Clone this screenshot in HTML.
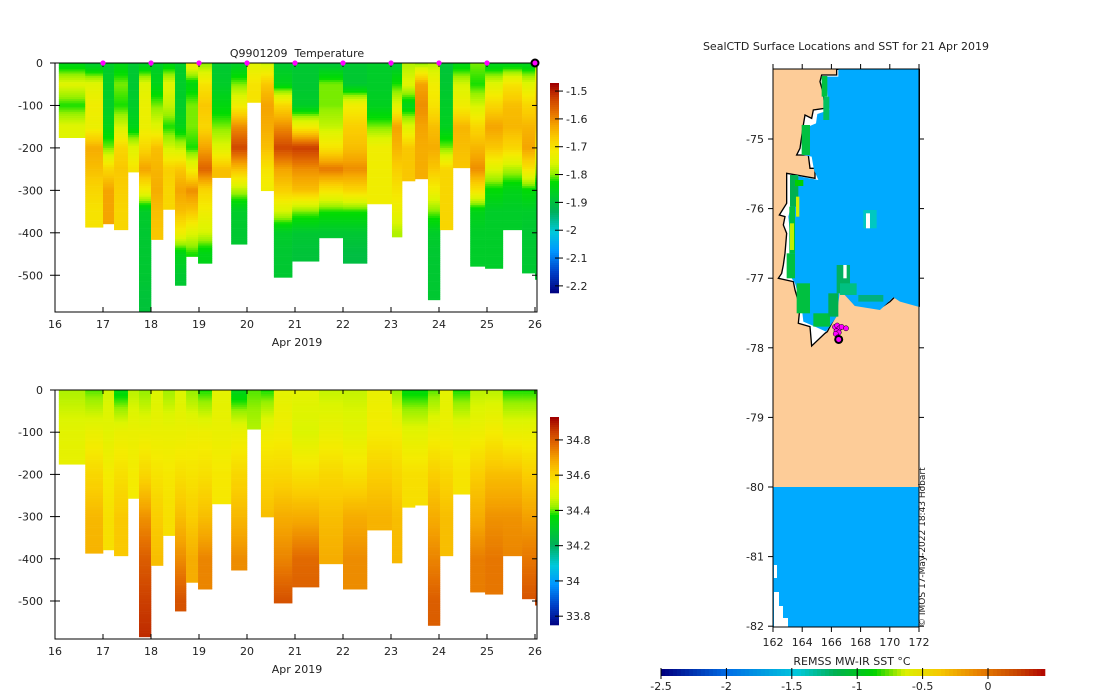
<!DOCTYPE html>
<html><head><meta charset="utf-8">
<style>
html,body{margin:0;padding:0;background:#fff;}
svg{display:block;font-family:"DejaVu Sans","Liberation Sans",sans-serif;}
text{fill:#222;white-space:pre;}
</style></head>
<body>
<svg id="s" width="1100" height="696" viewBox="0 0 1100 696">
<g id="topPanel"></g>
<g id="botPanel"></g>
<g id="mapPanel"></g>
<g id="sstbar"></g>
</svg>
<script>
const colStart=[16.08,16.63,17.0,17.23,17.52,17.75,18.0,18.25,18.5,18.73,18.98,19.27,19.67,20.0,20.29,20.56,20.94,21.5,22.0,22.5,23.02,23.23,23.5,23.77,24.02,24.29,24.65,24.96,25.33,25.73,26.0];
const colEndDay=26.04;
const colDepth=[176,387,379,393,257,585,416,345,524,456,472,270,427,93,301,505,467,412,472,332,410,278,273,558,393,247,479,484,393,495,510];
const tempProfiles=[
[-1.85,-1.75,-1.82,-1.75,-1.75],
[-1.88,-1.75,-1.72,-1.73,-1.63,-1.65,-1.68,-1.70,-1.70],
[-1.87,-1.87,-1.87,-1.85,-1.80,-1.68,-1.62,-1.62,-1.62],
[-1.85,-1.80,-1.82,-1.76,-1.68,-1.66,-1.67,-1.68,-1.68],
[-1.88,-1.88,-1.87,-1.85,-1.75,-1.70,-1.70],
[-1.87,-1.75,-1.73,-1.73,-1.68,-1.62,-1.72,-1.87,-1.88,-1.88,-1.88,-1.89,-1.89],
[-1.87,-1.85,-1.80,-1.75,-1.65,-1.64,-1.63,-1.65,-1.66,-1.66],
[-1.85,-1.75,-1.77,-1.82,-1.76,-1.67,-1.68,-1.68,-1.68],
[-1.87,-1.87,-1.87,-1.85,-1.77,-1.66,-1.62,-1.65,-1.72,-1.85,-1.88,-1.88],
[-1.72,-1.84,-1.80,-1.80,-1.82,-1.72,-1.60,-1.66,-1.75,-1.82,-1.82],
[-1.80,-1.70,-1.66,-1.68,-1.62,-1.56,-1.68,-1.72,-1.76,-1.85,-1.85],
[-1.88,-1.87,-1.84,-1.80,-1.75,-1.65,-1.65],
[-1.87,-1.80,-1.72,-1.60,-1.53,-1.65,-1.78,-1.87,-1.88,-1.88],
[-1.75,-1.70,-1.70],
[-1.77,-1.66,-1.62,-1.63,-1.65,-1.70,-1.72,-1.72],
[-1.88,-1.85,-1.68,-1.60,-1.53,-1.62,-1.67,-1.76,-1.87,-1.88,-1.88,-1.88],
[-1.88,-1.88,-1.87,-1.72,-1.52,-1.60,-1.65,-1.80,-1.88,-1.89,-1.89],
[-1.89,-1.80,-1.80,-1.77,-1.70,-1.58,-1.70,-1.82,-1.88,-1.88],
[-1.88,-1.88,-1.72,-1.67,-1.65,-1.60,-1.68,-1.82,-1.88,-1.90,-1.90],
[-1.87,-1.87,-1.86,-1.80,-1.72,-1.72,-1.72,-1.72],
[-1.88,-1.82,-1.75,-1.62,-1.64,-1.67,-1.70,-1.73,-1.78,-1.78],
[-1.78,-1.75,-1.85,-1.75,-1.66,-1.66,-1.66],
[-1.80,-1.62,-1.60,-1.62,-1.63,-1.63,-1.63],
[-1.78,-1.72,-1.70,-1.65,-1.63,-1.66,-1.72,-1.80,-1.87,-1.88,-1.88,-1.88,-1.88],
[-1.89,-1.88,-1.87,-1.86,-1.80,-1.68,-1.68,-1.68,-1.68],
[-1.85,-1.76,-1.72,-1.64,-1.65,-1.66,-1.66],
[-1.80,-1.82,-1.76,-1.68,-1.64,-1.60,-1.70,-1.85,-1.87,-1.87,-1.87],
[-1.86,-1.75,-1.68,-1.62,-1.66,-1.75,-1.83,-1.87,-1.87,-1.87,-1.87],
[-1.86,-1.70,-1.65,-1.64,-1.68,-1.78,-1.85,-1.87,-1.87],
[-1.86,-1.75,-1.68,-1.64,-1.62,-1.70,-1.83,-1.87,-1.88,-1.88,-1.88],
[-1.82,-1.70,-1.65,-1.65,-1.70,-1.78,-1.85,-1.88,-1.88,-1.88,-1.88,-1.88]
];
const salProfiles=[
[34.44,34.50,34.52],
[34.40,34.52,34.60,34.66,34.67],
[34.47,34.50,34.55,34.58,34.58],
[34.35,34.52,34.58,34.63,34.63],
[34.45,34.52,34.55,34.55],
[34.42,34.52,34.60,34.72,34.80,34.85,34.88],
[34.48,34.52,34.57,34.62,34.65,34.65],
[34.43,34.52,34.56,34.58,34.58],
[34.48,34.52,34.58,34.65,34.73,34.82,34.82],
[34.42,34.53,34.57,34.62,34.68,34.68],
[34.38,34.53,34.58,34.65,34.74,34.74],
[34.50,34.52,34.56,34.56],
[34.33,34.52,34.60,34.66,34.73,34.73],
[34.40,34.45],
[34.38,34.53,34.60,34.65,34.65],
[34.50,34.54,34.60,34.68,34.74,34.82,34.82],
[34.50,34.48,34.58,34.68,34.78,34.80],
[34.46,34.52,34.60,34.65,34.68,34.68],
[34.46,34.50,34.58,34.68,34.73,34.73],
[34.52,34.55,34.62,34.67,34.67],
[34.42,34.55,34.60,34.65,34.66,34.66],
[34.36,34.50,34.58,34.58],
[34.36,34.50,34.58,34.58],
[34.40,34.53,34.62,34.68,34.74,34.80,34.80],
[34.50,34.53,34.60,34.65,34.65],
[34.38,34.52,34.57,34.57],
[34.45,34.53,34.62,34.68,34.75,34.75],
[34.45,34.55,34.65,34.72,34.76,34.76],
[34.38,34.52,34.65,34.72,34.74],
[34.38,34.52,34.62,34.70,34.76,34.82],
[34.38,34.52,34.62,34.70,34.76,34.84,34.84]
];
const dayTicks=[16,17,18,19,20,21,22,23,24,25,26];
const depthTicks=[0,-100,-200,-300,-400,-500];
const markerDays=[17,18,19,20,21,22,23,24,25];
const lastProfileDay=26;
const tempTicks=[-1.5,-1.6,-1.7,-1.8,-1.9,-2,-2.1,-2.2];
const salTicks=[34.8,34.6,34.4,34.2,34,33.8];
const sstTicks=[-2.5,-2,-1.5,-1,-0.5,0];
const lonTicks=[162,164,166,168,170,172];
const latTicks=[-75,-76,-77,-78,-79,-80,-81,-82];
const stationLon=[166.25,166.4,166.55,166.35,166.7,166.5,166.3,167.0,166.45];
const stationLat=[-77.7,-77.68,-77.72,-77.76,-77.7,-77.78,-77.8,-77.72,-77.85];

const NS='http://www.w3.org/2000/svg';
function el(p,t,a){const e=document.createElementNS(NS,t);for(const k in a)e.setAttribute(k,a[k]);p.appendChild(e);return e;}
function txt(p,x,y,s,anchor,size){const t=el(p,'text',{x:x,y:y,'text-anchor':anchor||'middle','font-size':size||11});t.textContent=s;return t;}

const cmap=[[0,[0,0,128]],[0.1,[0,64,200]],[0.2,[0,150,255]],[0.29,[0,200,220]],[0.39,[0,176,90]],[0.47,[0,205,40]],[0.53,[0,220,0]],[0.57,[150,240,0]],[0.62,[220,245,0]],[0.68,[245,235,0]],[0.74,[250,205,0]],[0.8,[245,165,0]],[0.86,[230,115,0]],[0.93,[205,65,0]],[1,[160,0,0]]];
function col(f){f=Math.max(0,Math.min(1,f));for(let i=1;i<cmap.length;i++){if(f<=cmap[i][0]){const a=cmap[i-1],b=cmap[i];const t=(f-a[0])/(b[0]-a[0]);const c=a[1].map((v,j)=>Math.round(v+(b[1][j]-v)*t));return 'rgb('+c.join(',')+')';}}return 'rgb(160,0,0)';}
function interp(prof,step,d){const i=d/step;const i0=Math.min(prof.length-1,Math.floor(i));const i1=Math.min(prof.length-1,i0+1);const t=i-i0;return prof[i0]+(prof[i1]-prof[i0])*t;}

function panel(g,y0,py,profiles,step,vmin,vmax,ticks,cbTop,cbBot,cbVals){
  const X=d=>55+(d-16)*48;
  const Y=m=>y0+m*py;
  const F=v=>(v-vmin)/(vmax-vmin);
  for(let c=0;c<colStart.length;c++){
    const x0=X(colStart[c]);const x1=X(c+1<colStart.length?colStart[c+1]:colEndDay);
    const cg=el(g,'g',{});
    
    
    for(let d=0;d<colDepth[c];d+=5){
      const v=interp(profiles[c],step,d+2.5);
      el(cg,'rect',{x:x0.toFixed(2),y:Y(d).toFixed(2),width:(x1-x0+0.3).toFixed(2),height:(Math.min(5,colDepth[c]-d)*py+0.3).toFixed(2),fill:col(F(v))});
    }
  }
  const yb=y0+249;
  const frame=el(g,'rect',{x:55,y:y0,width:482,height:249,fill:'none',stroke:'#000','stroke-width':1});
  
  
  dayTicks.forEach(d=>{const x=X(d);el(g,'line',{x1:x,y1:yb,x2:x,y2:yb-5,stroke:'#000'});el(g,'line',{x1:x,y1:y0,x2:x,y2:y0+4,stroke:'#000'});
    const t=txt(g,x,yb+16,String(d));});
  depthTicks.forEach(m=>{const y=Y(-m);el(g,'line',{x1:50,y1:y,x2:60,y2:y,stroke:'#000'});el(g,'line',{x1:532,y1:y,x2:537,y2:y,stroke:'#000'});
    const t=txt(g,43,y+4,String(m),'end');});
  const xl=txt(g,297,yb+34,'Apr 2019');
  const cb=el(g,'g',{});
  
  
  for(let y=cbTop;y<cbBot;y+=2){const v=cbVals[0]+(cbVals[1]-cbVals[0])*(y-cbTop)/(cbBot-cbTop);el(cb,'rect',{x:550,y:y,width:9,height:2.3,fill:col(F(v))});}
  ticks.forEach(v=>{const y=cbTop+(cbVals[0]-v)/(cbVals[0]-cbVals[1])*(cbBot-cbTop);el(cb,'line',{x1:555,y1:y,x2:563,y2:y,stroke:'#000'});
    const t=txt(cb,566,y+4,String(v),'start');});
}
const topG=document.getElementById('topPanel');
panel(topG,63,0.4245,tempProfiles,50,-2.222,-1.471,tempTicks,83,292,[-1.471,-2.222]);
const tt=txt(topG,297,57,'Q9901209\u00a0\u00a0Temperature');


markerDays.forEach(d=>{const m=el(topG,'circle',{cx:55+(d-16)*48,cy:63,r:2.6,fill:'#ff00ff'});
  
  });
const lm=el(topG,'circle',{cx:55+(lastProfileDay-16)*48,cy:63,r:3.5,fill:'#ff00ff',stroke:'#000','stroke-width':2});



const botG=document.getElementById('botPanel');
panel(botG,390,0.422,salProfiles,100,33.75,34.93,salTicks,417,625,[34.93,33.75]);

const mapG=document.getElementById('mapPanel');
const LX=l=>773+(l-162)*14.6, LY=a=>139+(-75-a)*69.6;
el(mapG,'rect',{x:773,y:69,width:146,height:418,fill:'#fdcc98'});
const south=el(mapG,'rect',{x:773,y:487,width:146,height:140,fill:'#00aaff'});


el(mapG,'polygon',{points:'774,565 777,565 777,578 774,578',fill:'#fff'});
el(mapG,'polygon',{points:'774,592 779,592 779,606 783,606 783,618 788,618 788,627 774,627',fill:'#fff'});
const mg=el(mapG,'g',{transform:'translate(740,60) scale(0.3333)'});
const coast='290,28 290,45 245,45 240,65 250,100 255,145 220,150 215,175 195,165 190,195 185,230 180,265 170,285 205,285 210,325 225,325 225,355 140,340 140,430 118,465 135,470 130,495 140,520 135,580 130,615 125,640 115,655 160,665 165,690 180,740 175,790 210,800 215,858 255,820 262,815 275,790 292,760 290,700 305,690 345,735 390,740 420,745 450,725 465,710 480,720 538,738 538,28';
const wp=el(mg,'polygon',{points:coast,fill:'#fff',stroke:'#000','stroke-width':4});


el(mg,'polygon',{points:'295,28 295,50 258,50 262,100 268,150 232,162 228,190 205,200 200,240 190,285 215,290 222,330 235,360 155,345 155,430 145,470 150,520 150,580 145,640 165,670 185,740 190,785 225,800 258,815 290,770 300,690 345,738 420,750 460,712 480,725 538,741 538,28',fill:'#00aaff'});
[[245,48,262,110,'#00c040'],[250,110,268,180,'#00c060'],[185,195,210,285,'#00c040'],[150,345,175,440,'#00b050'],[165,360,190,378,'#00d000'],[148,440,165,580,'#00c040'],[150,490,162,570,'#c0f000'],[168,410,178,470,'#d0f000'],[140,580,165,655,'#00c040'],[170,670,210,760,'#00c040'],[220,760,270,800,'#00c040'],[265,700,295,770,'#00b050'],[290,615,330,700,'#00b060'],[300,670,350,705,'#00c080'],[355,705,430,725,'#00b080'],[370,450,410,505,'#00c8c0']].forEach(r=>{
 const rr=el(mg,'rect',{x:r[0],y:r[1],width:r[2]-r[0],height:r[3]-r[1],fill:r[4]});
 
 });
el(mg,'rect',{x:378,y:460,width:12,height:45,fill:'#fff'});
el(mg,'rect',{x:310,y:615,width:10,height:40,fill:'#fff'});
for(let i=0;i<stationLon.length;i++){const s=el(mapG,'circle',{cx:LX(stationLon[i]),cy:LY(stationLat[i]),r:2.6,fill:'#ff00ff',stroke:'#000','stroke-width':0.5});
 
 }
const curSt=el(mapG,'circle',{cx:LX(166.5),cy:LY(-77.88),r:3.5,fill:'#ff00ff',stroke:'#000','stroke-width':2});


el(mapG,'rect',{x:773,y:69,width:146,height:558,fill:'none',stroke:'#000','stroke-width':1});
lonTicks.forEach(l=>{const x=LX(l);el(mapG,'line',{x1:x,y1:627,x2:x,y2:632,stroke:'#000'});el(mapG,'line',{x1:x,y1:69,x2:x,y2:64,stroke:'#000'});
 const t=txt(mapG,x,646,String(l));});
latTicks.forEach(a=>{const y=LY(a);el(mapG,'line',{x1:768,y1:y,x2:773,y2:y,stroke:'#000'});el(mapG,'line',{x1:919,y1:y,x2:924,y2:y,stroke:'#000'});
 const t=txt(mapG,764,y+4,String(a),'end');});
const mt=txt(mapG,846,50,'SealCTD Surface Locations and SST for 21 Apr 2019');


const cp=txt(mapG,0,0,'© IMOS 17-May-2022 18:43 Hobart','start',9);
cp.setAttribute('transform','translate(925,627) rotate(-90)');



const sb=document.getElementById('sstbar');
const SX=v=>661+(v+2.5)*130.8;
const sstMin=-2.55,sstMax=0.44;
const sstStops=[[0,[0,0,128]],[0.17,[0,110,230]],[0.35,[0,200,220]],[0.45,[0,176,80]],[0.55,[0,210,0]],[0.63,[220,240,0]],[0.72,[245,200,0]],[0.82,[232,130,0]],[0.92,[200,70,0]],[1,[176,0,0]]];
for(let x=661;x<1045;x+=4){const v=sstMin+(x-661)/(1045-661)*(sstMax-sstMin);
 const f=(v-sstMin)/(sstMax-sstMin);
 let c='rgb(176,0,0)';for(let i=1;i<sstStops.length;i++){if(f<=sstStops[i][0]){const a=sstStops[i-1],b=sstStops[i];const t=(f-a[0])/(b[0]-a[0]);c='rgb('+a[1].map((u,j)=>Math.round(u+(b[1][j]-u)*t)).join(',')+')';break;}}
 el(sb,'rect',{x:x,y:669,width:4.3,height:7,fill:c});}
sstTicks.forEach(v=>{const x=SX(v);el(sb,'line',{x1:x,y1:668,x2:x,y2:679,stroke:'#000'});
 const t=txt(sb,x,690,String(v));});
const st=txt(sb,852,665,'REMSS MW-IR SST °C');


</script>
</body></html>
